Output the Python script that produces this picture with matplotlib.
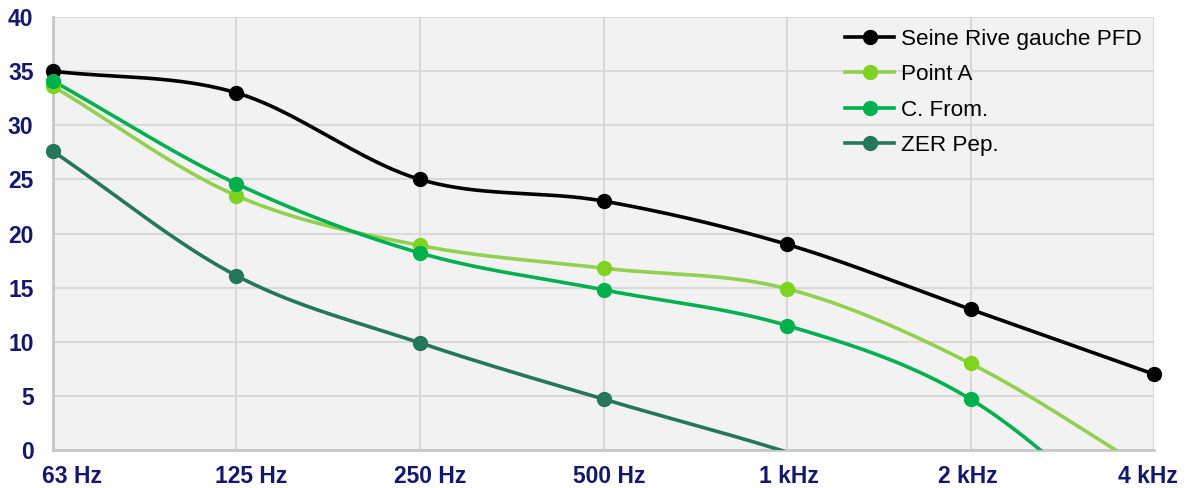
import matplotlib
matplotlib.use("Agg")
import matplotlib.pyplot as plt
import numpy as np

# Données (valeurs négatives hors cadre estimées)
bandes = ["63 Hz", "125 Hz", "250 Hz", "500 Hz", "1 kHz", "2 kHz", "4 kHz"]
seine_pfd = [35.0, 33.0, 25.0, 23.0, 19.0, 13.0, 7.0]
point_a = [33.6, 23.5, 18.9, 16.8, 14.9, 8.0, -2.2]
c_from = [34.1, 24.6, 18.2, 14.8, 11.5, 4.7, -9.0]
zer_pep = [27.6, 16.1, 9.9, 4.7, -0.2, -6.0, -12.0]

series = [
    ("Seine Rive gauche PFD", seine_pfd, "#000000", "#000000"),
    ("Point A", point_a, "#92D050", "#7ED321"),
    ("C. From.", c_from, "#00B050", "#00B04C"),
    ("ZER Pep.", zer_pep, "#25765A", "#25765A"),
]

NAVY = "#14186B"


def lissage(y, n=40):
    """Courbe lissée façon Excel (Hermite, pentes aux bornes = segment)."""
    y = np.asarray(y, dtype=float)
    x = np.arange(len(y), dtype=float)
    m = np.empty_like(y)
    m[1:-1] = (y[2:] - y[:-2]) / 2
    m[0] = y[1] - y[0]
    m[-1] = y[-1] - y[-2]
    xs, ys = [], []
    for i in range(len(y) - 1):
        t = np.linspace(0, 1, n, endpoint=(i == len(y) - 2))
        h00 = 2 * t**3 - 3 * t**2 + 1
        h10 = t**3 - 2 * t**2 + t
        h01 = -2 * t**3 + 3 * t**2
        h11 = t**3 - t**2
        xs.append(x[i] + t)
        ys.append(h00 * y[i] + h10 * m[i] + h01 * y[i + 1] + h11 * m[i + 1])
    return np.concatenate(xs), np.concatenate(ys)


fig = plt.figure(figsize=(11.88, 4.88), dpi=100)
ax = fig.add_axes([0.0446, 0.0779, 0.9268, 0.8871])
ax.set_facecolor("#F2F2F2")

x = np.arange(len(bandes))
for label, vals, col, mcol in series:
    xs, ys = lissage(vals)
    ax.plot(xs, ys, color=col, lw=2.6, solid_capstyle="round", zorder=3)
    # marqueurs uniquement pour les points dans l'échelle
    v = np.asarray(vals)
    ok = (v >= 0) & (v <= 40)
    ax.plot(x[ok], v[ok], "o", color=mcol, ms=10, zorder=4, clip_on=False)
    ax.plot([], [], "-o", color=col, mfc=mcol, mec=mcol, lw=2.6, ms=10, label=label)

ax.set_xlim(0, len(bandes) - 1)
ax.set_ylim(0, 40)
# graduations majeures -> grille ; étiquettes sur graduations mineures
# (les étiquettes de l'original sont légèrement resserrées vers l'intérieur)
ax.set_xticks(x)
ax.set_xticklabels([])
ax.set_xticks(0.103 + 0.977 * x, minor=True)
ax.set_xticklabels(bandes, minor=True)
ax.set_yticks(np.arange(0, 41, 5))

ax.grid(True, which="major", color="#D9D9D9", lw=1.5, zorder=0)
ax.set_axisbelow(True)
for s in ["top", "right"]:
    ax.spines[s].set_visible(False)
for s in ["left", "bottom"]:
    ax.spines[s].set_color("#C8C8C8")
    ax.spines[s].set_linewidth(2)

ax.tick_params(axis="both", which="both", length=0, colors=NAVY)
ax.tick_params(axis="y", pad=14)
ax.tick_params(axis="x", which="minor", pad=10.5)
labels = ax.get_xticklabels(minor=True) + ax.get_yticklabels()
for lab in labels:
    lab.set_fontfamily("Liberation Sans")
    lab.set_fontweight("bold")
    lab.set_fontsize(16.5)
    lab.set_color(NAVY)

leg = ax.legend(loc="upper left", bbox_to_anchor=(0.705, 1.009), frameon=False,
                prop={"family": "Liberation Sans", "size": 16.2},
                handlelength=2.2, handletextpad=0.28, labelspacing=0.64,
                borderaxespad=0.3)

fig.savefig("out.png", dpi=100)
